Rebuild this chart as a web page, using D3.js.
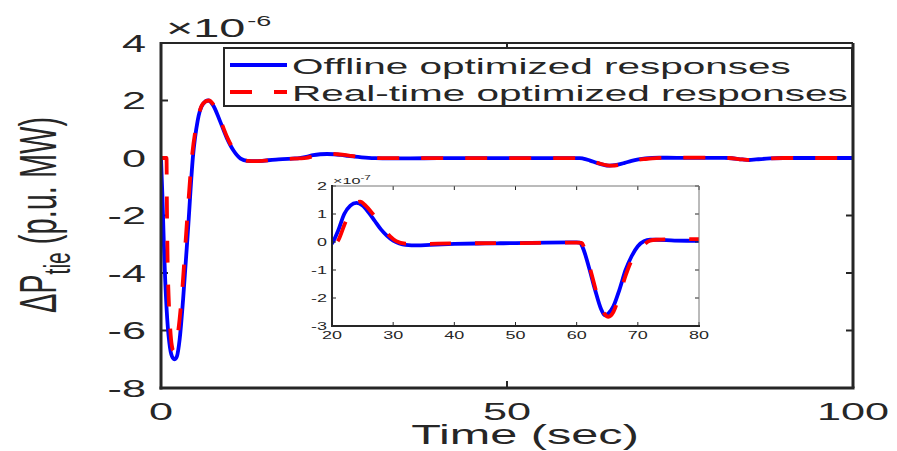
<!DOCTYPE html>
<html>
<head>
<meta charset="utf-8">
<script src="https://cdn.jsdelivr.net/npm/d3@7"></script>
<style>
  html, body { margin: 0; padding: 0; background: #fff; }
  svg { display: block; font-family: "Liberation Sans", Arial, sans-serif; }
</style>
</head>
<body>
<svg id="chart" width="897" height="451"></svg>
<script>
// Tie-line power deviation, values in units of 1e-6 p.u. MW
const offlineT = [0,0.2,0.4,0.6,0.9,1.3,1.7,2.0,2.3,2.7,3.2,3.9,4.6,5.3,6.0,6.8,7.5,8.5,9.5,10.5,11.5,12.5,13.5,15,17,19,20,21,22,23,24,25,26,27,28,29,30,31,32,34,36,40,45,50,55,60,60.5,61,62,63,64,64.6,65.2,66,67,68,69,70,71,72,73,76,80,82,84,85,86,88,90,95,100];
const offlineV = [0,-1.3,-2.9,-4.2,-5.6,-6.6,-6.95,-7.0,-6.9,-6.3,-4.9,-2.5,0.0,1.3,1.85,2.0,1.85,1.3,0.7,0.25,-0.02,-0.1,-0.11,-0.09,-0.05,-0.02,-0.005,0.04,0.1,0.13,0.14,0.13,0.105,0.075,0.045,0.022,0.005,-0.005,-0.01,-0.012,-0.01,-0.007,-0.005,-0.004,-0.002,-0.001,-0.002,-0.02,-0.09,-0.17,-0.24,-0.262,-0.255,-0.23,-0.17,-0.1,-0.05,-0.015,0.003,0.008,0.008,0.005,0.004,0.0,-0.05,-0.07,-0.05,-0.015,0.0,0.0,0];

const realtimeT = [0,0.8,0.85,0.95,1.1,1.3,1.55,1.8,2.1,2.5,3.0,3.7,4.5,5.3,6.1,6.9,7.6,8.6,9.6,10.6,11.6,12.6,13.6,15,17,19,20,21,22,23,24,24.6,25.5,26.5,27.5,28.5,29.5,30.5,32,34,40,50,60,60.8,61.5,62.5,63.5,64.5,65.2,66,67,68,69,70,71,72,73,77,80,82,84,85,86,88,90,95,100];
const realtimeV = [0,0,-1.5,-3.5,-4.8,-5.8,-6.5,-6.7,-6.6,-6.0,-4.8,-2.4,0.1,1.35,1.9,2.0,1.85,1.3,0.7,0.25,-0.02,-0.1,-0.11,-0.09,-0.05,-0.025,-0.013,0.005,0.06,0.11,0.14,0.144,0.13,0.105,0.075,0.045,0.02,0.003,-0.006,-0.007,-0.005,-0.004,-0.002,-0.003,-0.04,-0.12,-0.2,-0.255,-0.267,-0.25,-0.19,-0.12,-0.065,-0.035,-0.01,0.005,0.008,0.01,0.01,0.0,-0.05,-0.07,-0.05,-0.015,0,0,0];

const seriesNames = ["Offline optimized responses", "Real-time optimized responses"];
const seriesColors = ["#0000ff", "#ff0000"];

const mainXTicks = [0, 50, 100];
const mainYTicks = [4, 2, 0, -2, -4, -6, -8];
const insetXTicks = [20, 30, 40, 50, 60, 70, 80];
const insetYTicks = [2, 1, 0, -1, -2, -3];

const offline = offlineT.map((t, i) => ({ t, v: offlineV[i] }));
const realtime = realtimeT.map((t, i) => ({ t, v: realtimeV[i] }));

const svg = d3.select("#chart");
const INK = "#262626";
const SX = 1.8; // horizontal glyph stretch

function label(g, x, y, anchor, size, rotate) {
  const t = g.append("text")
    .attr("transform", `translate(${x},${y}) scale(${SX},1)` + (rotate ? " rotate(-90)" : ""))
    .attr("text-anchor", anchor)
    .attr("font-size", size)
    .attr("fill", INK);
  return t;
}

// ---------- main axes ----------
const x = d3.scaleLinear().domain([0, 100]).range([161, 853]);
const y = d3.scaleLinear().domain([-8, 4]).range([388, 43]);

const main = svg.append("g");

// ticks (inward, both sides)
const tickLen = 7;
main.selectAll(".yt").data(mainYTicks).join("g").each(function (d) {
  const g = d3.select(this);
  g.append("line").attr("x1", x(0)).attr("x2", x(0) + tickLen).attr("y1", y(d)).attr("y2", y(d))
    .attr("stroke", INK).attr("stroke-width", 2);
  g.append("line").attr("x1", x(100)).attr("x2", x(100) - tickLen).attr("y1", y(d)).attr("y2", y(d))
    .attr("stroke", INK).attr("stroke-width", 2);
  label(g, 146, y(d) + 8.5, "end", 24).text(d);
});
main.selectAll(".xt").data(mainXTicks).join("g").each(function (d) {
  const g = d3.select(this);
  g.append("line").attr("x1", x(d)).attr("x2", x(d)).attr("y1", y(-8)).attr("y2", y(-8) - tickLen)
    .attr("stroke", INK).attr("stroke-width", 2);
  g.append("line").attr("x1", x(d)).attr("x2", x(d)).attr("y1", y(4)).attr("y2", y(4) + tickLen)
    .attr("stroke", INK).attr("stroke-width", 2);
  label(g, x(d), 420, "middle", 24).text(d);
});

// exponent
const expo = label(main, 166, 37, "start", 26);
expo.append("tspan").text("\u00d710");
expo.append("tspan").attr("font-size", 15).attr("dy", -11).attr("dx", 1).text("-6");

// axis labels
label(main, 525, 444, "middle", 27).text("Time (sec)");
const yl = label(main, 56, 215, "middle", 29, true);
yl.append("tspan").text("\u0394P");
yl.append("tspan").attr("font-size", 21).attr("dy", 8).text("tie");
yl.append("tspan").attr("dy", -8).text(" (p.u. MW)");

// curves
const clipMain = svg.append("clipPath").attr("id", "clipMain");
clipMain.append("rect").attr("x", 161).attr("y", 43).attr("width", 692).attr("height", 345);

const mainLine = d3.line().x(d => x(d.t)).y(d => y(d.v)).curve(d3.curveMonotoneX);
const curves = main.append("g").attr("clip-path", "url(#clipMain)");
curves.append("path").datum(offline).attr("d", mainLine)
  .attr("fill", "none").attr("stroke", seriesColors[0]).attr("stroke-width", 3.8)
  .attr("stroke-linejoin", "round");
curves.append("path").datum(realtime).attr("d", mainLine)
  .attr("fill", "none").attr("stroke", seriesColors[1]).attr("stroke-width", 3.8)
  .attr("stroke-dasharray", "22 22");

// box
main.append("line").attr("x1", 161).attr("x2", 853).attr("y1", 43).attr("y2", 43).attr("stroke", INK).attr("stroke-width", 2);
main.append("line").attr("x1", 853).attr("x2", 853).attr("y1", 43).attr("y2", 388).attr("stroke", INK).attr("stroke-width", 3);
main.append("line").attr("x1", 161).attr("x2", 161).attr("y1", 42).attr("y2", 389.5).attr("stroke", INK).attr("stroke-width", 3);
main.append("line").attr("x1", 159.5).attr("x2", 854.5).attr("y1", 388).attr("y2", 388).attr("stroke", INK).attr("stroke-width", 3);

// legend
const lg = svg.append("g");
lg.append("rect").attr("x", 224).attr("y", 48).attr("width", 628).attr("height", 58)
  .attr("fill", "#fff").attr("stroke", INK).attr("stroke-width", 2);
seriesNames.forEach((name, i) => {
  const ly = 65 + i * 27;
  lg.append("line").attr("x1", 230).attr("x2", 287).attr("y1", ly).attr("y2", ly)
    .attr("stroke", seriesColors[i]).attr("stroke-width", 3.8)
    .attr("stroke-dasharray", i === 1 ? "22 22" : null);
  label(lg, 292, ly + 8.5, "start", 22.5).text(name);
});

// ---------- inset ----------
const ix = d3.scaleLinear().domain([20, 80]).range([332, 699]);
const iy = d3.scaleLinear().domain([-3, 2]).range([326, 186]);
const inset = svg.append("g");
inset.append("rect").attr("x", 332).attr("y", 186).attr("width", 367).attr("height", 140).attr("fill", "#fff");

const clipInset = svg.append("clipPath").attr("id", "clipInset");
clipInset.append("rect").attr("x", 332).attr("y", 180).attr("width", 367).attr("height", 150);

const insetLine = d3.line().x(d => ix(d.t)).y(d => iy(d.v * 10)).curve(d3.curveMonotoneX);
const ic = inset.append("g").attr("clip-path", "url(#clipInset)");
ic.append("path").datum(offline.filter(d => d.t >= 15 && d.t <= 85)).attr("d", insetLine)
  .attr("fill", "none").attr("stroke", seriesColors[0]).attr("stroke-width", 3.8);
ic.append("path").datum(realtime.filter(d => d.t >= 15 && d.t <= 85)).attr("d", insetLine)
  .attr("fill", "none").attr("stroke", seriesColors[1]).attr("stroke-width", 3.8)
  .attr("stroke-dasharray", "21 24");

const iTick = 4;
insetYTicks.forEach(d => {
  inset.append("line").attr("x1", 332).attr("x2", 332 + iTick).attr("y1", iy(d)).attr("y2", iy(d)).attr("stroke", INK).attr("stroke-width", 1);
  inset.append("line").attr("x1", 699).attr("x2", 699 - iTick).attr("y1", iy(d)).attr("y2", iy(d)).attr("stroke", INK).attr("stroke-width", 1);
  label(inset, 327, iy(d) + 3.5, "end", 10).text(d);
});
insetXTicks.forEach(d => {
  inset.append("line").attr("x1", ix(d)).attr("x2", ix(d)).attr("y1", 326).attr("y2", 326 - iTick).attr("stroke", INK).attr("stroke-width", 1);
  inset.append("line").attr("x1", ix(d)).attr("x2", ix(d)).attr("y1", 186).attr("y2", 186 + iTick).attr("stroke", INK).attr("stroke-width", 1);
  label(inset, ix(d), 339, "middle", 10).text(d);
});
const iexp = label(inset, 333, 184, "start", 9);
iexp.append("tspan").text("\u00d710");
iexp.append("tspan").attr("font-size", 6.5).attr("dy", -4).text("-7");

inset.append("line").attr("x1", 332).attr("x2", 699).attr("y1", 186).attr("y2", 186).attr("stroke", "#777").attr("stroke-width", 1);
inset.append("line").attr("x1", 699).attr("x2", 699).attr("y1", 186).attr("y2", 326).attr("stroke", "#777").attr("stroke-width", 1);
inset.append("line").attr("x1", 332).attr("x2", 332).attr("y1", 185).attr("y2", 327).attr("stroke", INK).attr("stroke-width", 2);
inset.append("line").attr("x1", 331).attr("x2", 700).attr("y1", 326).attr("y2", 326).attr("stroke", INK).attr("stroke-width", 2);
</script>
</body>
</html>
